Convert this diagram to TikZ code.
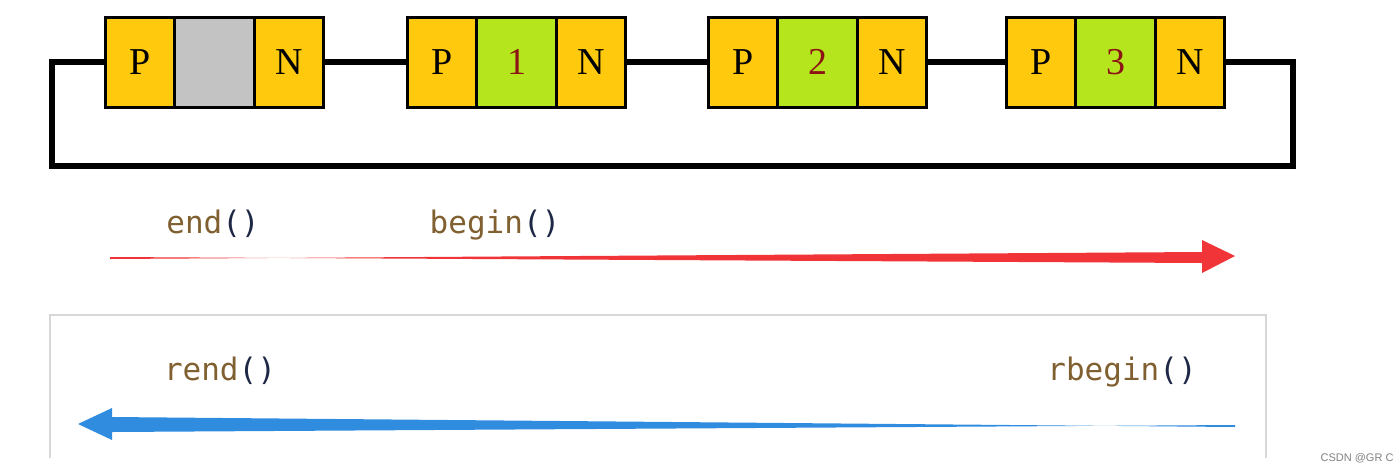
\documentclass[tikz,border=0pt]{standalone}
\usepackage{xcolor}
\usepackage{fontspec}
\setmainfont{Liberation Serif}
\newfontfamily\codefont{DejaVu Sans Mono}
\newfontfamily\markfont{Liberation Sans}
\usepackage{tikz}
\usetikzlibrary{positioning}

\definecolor{nodeyellow}{RGB}{255,201,14}
\definecolor{nodegreen}{RGB}{181,230,29}
\definecolor{nodegrey}{RGB}{195,195,195}
\definecolor{numred}{RGB}{140,20,20}
\definecolor{codebrown}{RGB}{128,96,48}
\definecolor{codeparen}{RGB}{30,40,70}
\definecolor{fwdred}{RGB}{240,52,56}
\definecolor{revblue}{RGB}{48,140,222}
\definecolor{framegrey}{RGB}{215,215,215}

\newcommand{\codelbl}[1]{\textcolor{codebrown}{#1}\textcolor{codeparen}{()}}

\begin{document}
\begin{tikzpicture}[
    x=0.5pt, y=-0.5pt,
    cell/.style={rectangle, draw=black, line width=1.5pt, inner sep=0pt, outer sep=0pt,
                 minimum height=45pt, font=\fontsize{19}{20}\selectfont},
    ptr/.style={cell, fill=nodeyellow, minimum width=34.5pt},
    data/.style={cell, fill=nodegreen, minimum width=40pt, text=numred},
    wire/.style={line width=3pt, line join=miter},
    code/.style={anchor=base, font=\codefont\fontsize{15.5}{16}\selectfont},
]
\useasboundingbox (0,0) rectangle (1400,472);

%% --- List nodes ---
\node[ptr] (p1) at (140,62) {P};
\node[data, fill=nodegrey, right=0pt of p1] (d1) {};
\node[ptr, right=0pt of d1] (n1) {N};

\node[ptr] (p2) at (442,62) {P};
\node[data, right=0pt of p2] (d2) {1};
\node[ptr, right=0pt of d2] (n2) {N};

\node[ptr] (p3) at (743,62) {P};
\node[data, right=0pt of p3] (d3) {2};
\node[ptr, right=0pt of d3] (n3) {N};

\node[ptr] (p4) at (1041,62) {P};
\node[data, right=0pt of p4] (d4) {3};
\node[ptr, right=0pt of d4] (n4) {N};

%% --- Links ---
\foreach \a/\b in {1/2, 2/3, 3/4}
    \draw[wire] (n\a.east) -- (p\b.west);

\coordinate (tl) at (52,62);
\coordinate (br) at (1293,166);
\draw[wire] (p1.west) -- (tl) |- (br) |- (n4.east);

%% --- Forward iteration ---
\node[code] (end) at (213,233) {\codelbl{end}};
\node[code] (begin) at (495,233) {\codelbl{begin}};

\coordinate (ftail) at (110,258);
\coordinate (fhead) at (1235,256);
\fill[fwdred] ([yshift=-0.5]ftail) -- (1202,252) -- (1202,240) -- (fhead)
    -- (1202,273) -- (1202,263) -- ([yshift=0.5]ftail) -- cycle;

%% --- Reverse iteration ---
\draw[framegrey, line width=1pt] (50,458) -- (50,315) -- (1266,315) -- (1266,458);

\node[code] (rend) at (220,380) {\codelbl{rend}};
\node[code] (rbegin) at (1122,380) {\codelbl{rbegin}};

\coordinate (rtail) at (1235,426);
\coordinate (rhead) at (78,424);
\fill[revblue] ([yshift=-0.5]rtail) -- (112,417) -- (112,408) -- (rhead)
    -- (112,440) -- (112,432) -- ([yshift=0.5]rtail) -- cycle;

\node[font=\markfont\fontsize{5.5}{6}\selectfont, text=gray] (mark) at (1357,458) {CSDN @GR C};

\end{tikzpicture}
\end{document}
